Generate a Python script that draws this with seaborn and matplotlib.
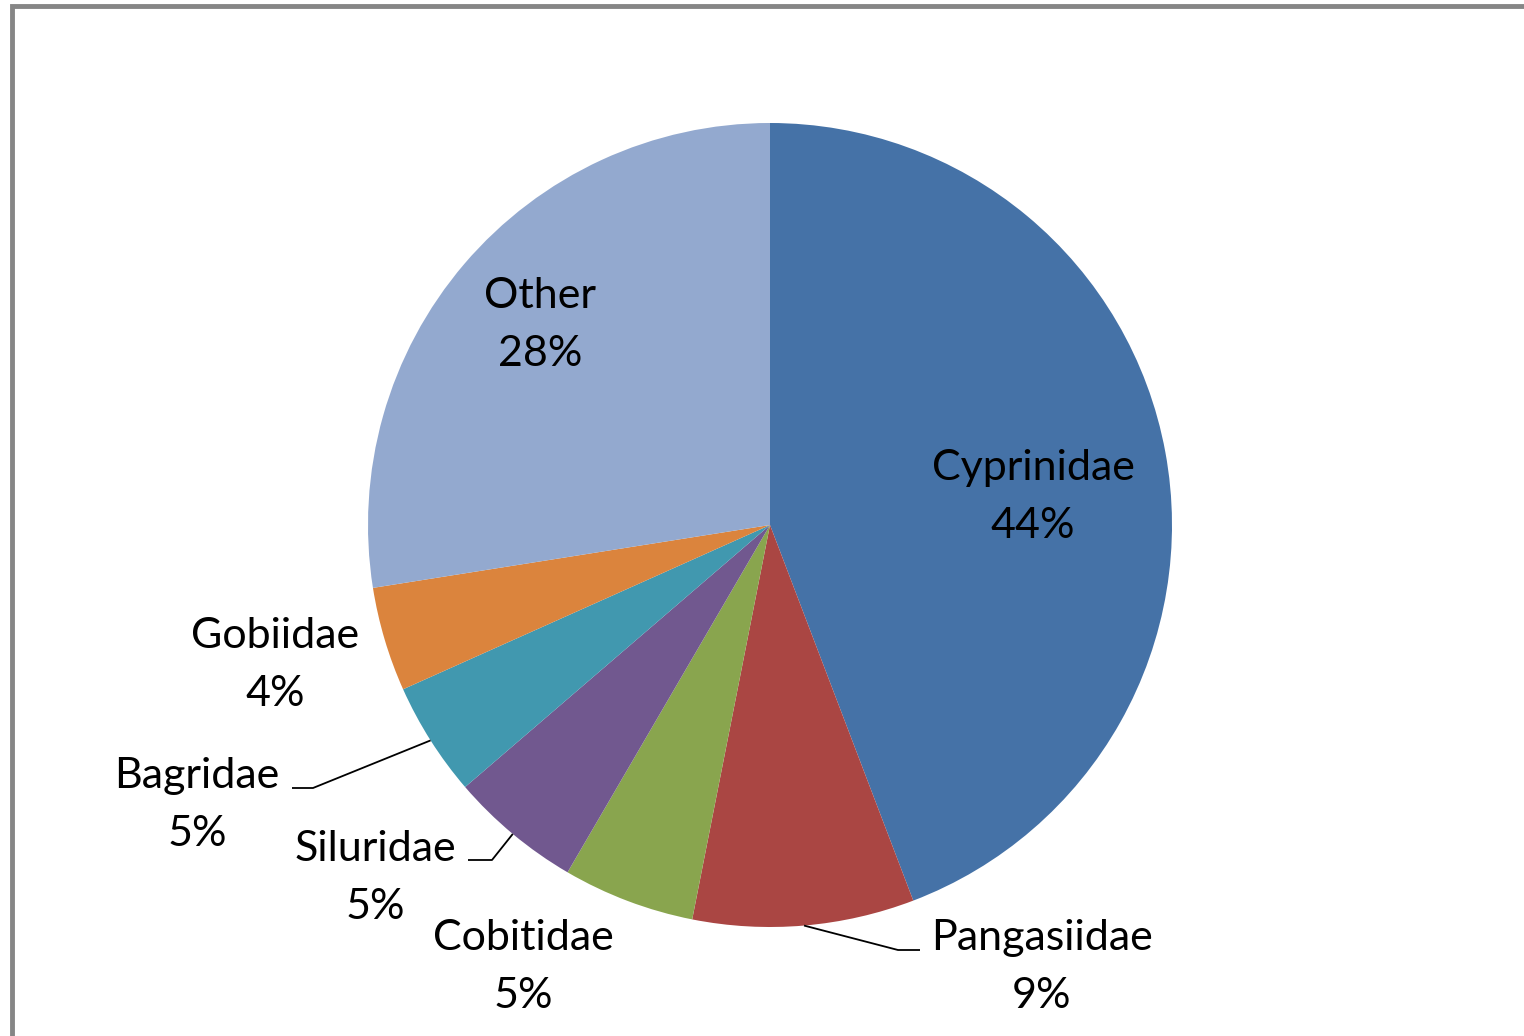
import numpy as np
import matplotlib
matplotlib.use("Agg")
import matplotlib.pyplot as plt
import seaborn as sns

# ---- data ----
families = ["Cyprinidae", "Pangasiidae", "Cobitidae", "Siluridae", "Bagridae", "Gobiidae", "Other"]
shares = [44.2, 8.9, 5.3, 5.3, 4.6, 4.2, 27.5]
pct_labels = ["44%", "9%", "5%", "5%", "5%", "4%", "28%"]
colors = ["#4572A7", "#AA4643", "#89A54E", "#71588F", "#4198AF", "#DB843D", "#93A9CF"]

sns.set_theme(style="white")
plt.rcParams['font.family'] = ['Lato', 'DejaVu Sans']

W, H = 1524, 1036
fig = plt.figure(figsize=(W / 100, H / 100), dpi=100)
ax = fig.add_axes([0, 0, 1, 1])

def P(x, y):
    return x, H - y

cx, cy = P(770, 525)
R = 402
wedges, _ = ax.pie(shares, colors=colors, startangle=90, counterclock=False,
                   center=(cx, cy), radius=R, frame=True,
                   wedgeprops=dict(linewidth=0))
ax.set_xlim(0, W)
ax.set_ylim(0, H)
ax.axis("off")

# label layout (pixel positions of label centers), leader elbow points
label_pos = {
    "Cyprinidae": (1033, 497),
    "Pangasiidae": (1042, 967),
    "Cobitidae": (523, 967),
    "Siluridae": (375, 878),
    "Bagridae": (197, 805),
    "Gobiidae": (275, 665),
    "Other": (540, 325),
}
leaders = {
    "Pangasiidae": [(898, 950), (920, 950)],
    "Siluridae": [(492, 860), (468, 860)],
    "Bagridae": [(313, 788), (292, 788)],
}

for w, name, pl in zip(wedges, families, pct_labels):
    x, y = P(*label_pos[name])
    ax.text(x, y, f"{name}\n{pl}", ha="center", va="center", fontsize=31,
            color="black", linespacing=1.67)
    if name in leaders:
        mid = np.deg2rad((w.theta1 + w.theta2) / 2)
        sx, sy = cx + R * np.cos(mid), cy + R * np.sin(mid)
        pts = [(sx, sy)] + [P(*p) for p in leaders[name]]
        xs, ys = zip(*pts)
        ax.plot(xs, ys, color="black", linewidth=1.3, solid_capstyle="butt")

# chart border (top and left visible)
ax.plot([11.5, 11.5, W + 5], [0, H - 6, H - 6], color="#868686", linewidth=3.5,
        solid_joinstyle="miter")

fig.savefig("out.png", dpi=100, facecolor="white")
